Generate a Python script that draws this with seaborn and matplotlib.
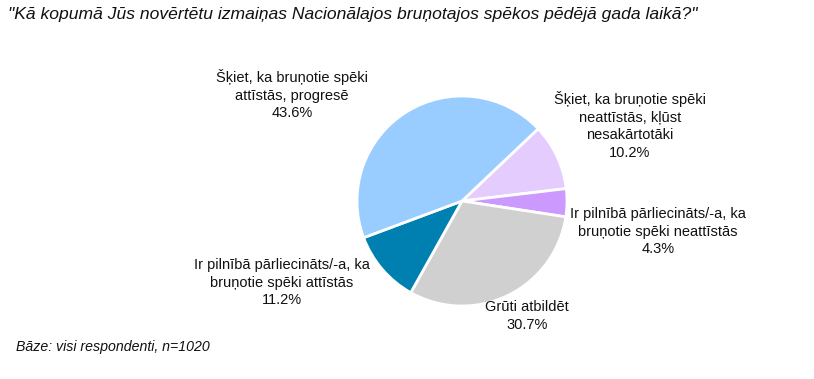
import matplotlib.pyplot as plt
import seaborn as sns

# order: clockwise from the upper-right boundary
categories = [
    "Šķiet, ka bruņotie spēki\nneattīstās, kļūst\nnesakārtotāki",
    "Ir pilnībā pārliecināts/-a, ka\nbruņotie spēki neattīstās",
    "Grūti atbildēt",
    "Ir pilnībā pārliecināts/-a, ka\nbruņotie spēki attīstās",
    "Šķiet, ka bruņotie spēki\nattīstās, progresē",
]
values = [10.2, 4.3, 30.7, 11.2, 43.6]
colors = ["#E5CCFF", "#CC99FF", "#D0D0D0", "#0080B0", "#99CCFF"]
# label centres (pixels, from top-left) and vertical anchor
label_pos = [(630, 91), (658, 207), (527, 300), (282, 258), (292, 69)]

sns.set_theme(style="white")
plt.rcParams["font.family"] = ["Liberation Sans", "DejaVu Sans"]

W, H = 814, 379
fig = plt.figure(figsize=(W / 100, H / 100), dpi=100)
fig.patch.set_facecolor("white")

cx, cy, r = 462, 201, 105
ax = fig.add_axes([(cx - r) / W, (H - cy - r) / H, 2 * r / W, 2 * r / H])
ax.pie(
    values,
    colors=colors,
    startangle=43.5,
    counterclock=False,
    wedgeprops=dict(edgecolor="white", linewidth=2),
)
ax.set_xlim(-1, 1)
ax.set_ylim(-1, 1)
ax.set_aspect("equal")
ax.axis("off")

for name, val, (px, py) in zip(categories, values, label_pos):
    fig.text(px / W, 1 - py / H, f"{name}\n{val}%", ha="center", va="top",
             fontsize=10.5, linespacing=1.33, color="#111111")

fig.text(8 / W, 1 - 15 / H,
         '"Kā kopumā Jūs novērtētu izmaiņas Nacionālajos bruņotajos spēkos pēdējā gada laikā?"',
         ha="left", va="center", fontsize=12.6, style="italic", color="#111111")
fig.text(16 / W, 1 - 347 / H, "Bāze: visi respondenti, n=1020",
         ha="left", va="center", fontsize=10.2, style="italic", color="#111111")

fig.savefig("out.png", dpi=100)
